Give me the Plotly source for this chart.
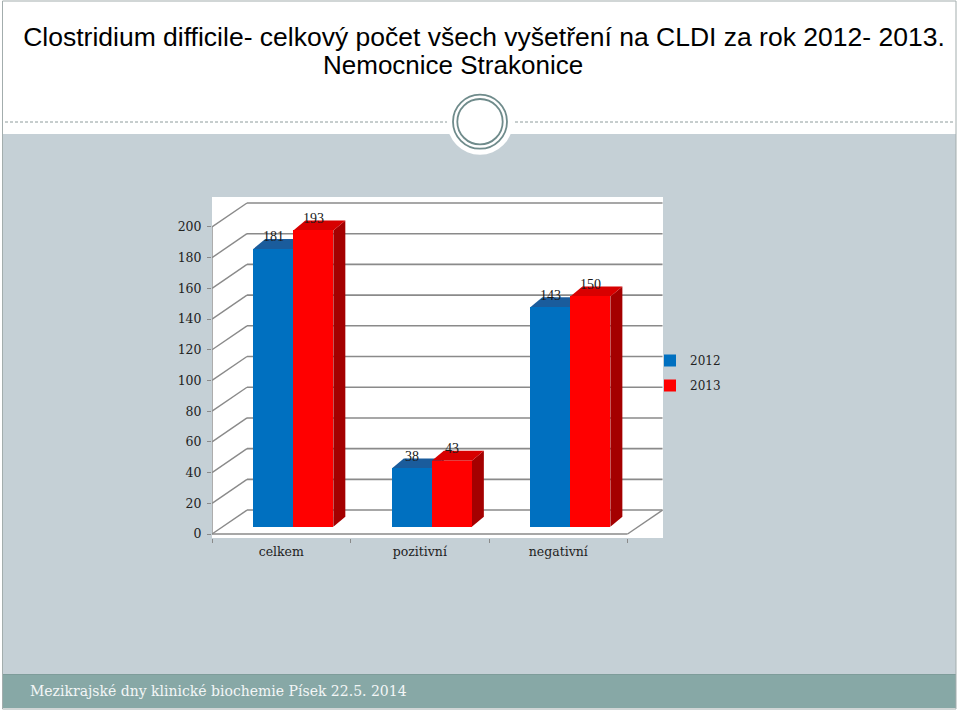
import plotly.graph_objects as go

# ---------------- data ----------------
categories = ["celkem", "pozitivní", "negativní"]
series_names = ["2012", "2013"]
values_2012 = [181, 38, 143]
values_2013 = [193, 43, 150]
y_ticks = [0, 20, 40, 60, 80, 100, 120, 140, 160, 180, 200]

title_line1 = "Clostridium difficile- celkový počet všech vyšetření na CLDI za rok 2012- 2013."
title_line2 = "Nemocnice Strakonice"
footer_text = "Mezikrajské dny klinické biochemie Písek 22.5. 2014"

# ---------------- style / geometry ----------------
BLUE, RED = "#0070C0", "#FF0000"
BLUE_TOP, BLUE_SIDE = "#1A5C9C", "#0B4F8C"
RED_TOP, RED_SIDE = "#D80000", "#A40000"
GRID = "#8A8A8A"

PL, PR, PT, PB = 212, 663, 197, 538      # plot area in pixels
X_RANGE = [-0.5, 2.756]
Y_RANGE = [-2.6, 219.5]
WALL_DX, WALL_DY = 0.2527, 15.6          # perspective depth of the wall
BAR_BASE = 4.7
BAR_SHIFT = 0.087
BAR_W = 0.289
BAR_DX, BAR_DY = 0.0866, 6.5             # bar depth


def px(x):
    return (x - PL) / (PR - PL)


def py(y):
    return (PB - y) / (PB - PT)


shapes = []
# slide background decorations (paper coordinates)
shapes.append(dict(type="rect", xref="paper", yref="paper", layer="below",
                   x0=px(3), x1=px(956), y0=py(674.5), y1=py(134),
                   fillcolor="#C5D0D6", line=dict(width=0)))
shapes.append(dict(type="rect", xref="paper", yref="paper", layer="below",
                   x0=px(3), x1=px(956), y0=py(708), y1=py(674.5),
                   fillcolor="#87A8A6", line=dict(width=0)))
shapes.append(dict(type="line", xref="paper", yref="paper", layer="below",
                   x0=px(3), x1=px(956), y0=py(674.5), y1=py(674.5),
                   line=dict(color="#7E9C9A", width=1)))
shapes.append(dict(type="rect", xref="paper", yref="paper", layer="below",
                   x0=px(2.5), x1=px(956), y0=py(709), y1=py(1),
                   line=dict(color="#A3ADAD", width=1)))
shapes.append(dict(type="line", xref="paper", yref="paper", layer="below",
                   x0=px(5), x1=px(955), y0=py(122), y1=py(122),
                   line=dict(color="#8E9C9C", width=1, dash="3px,2px")))
shapes.append(dict(type="circle", xref="paper", yref="paper", layer="below",
                   x0=px(480 - 33), x1=px(480 + 33), y0=py(121.7 + 33), y1=py(121.7 - 33),
                   fillcolor="white", line=dict(width=0)))
for r in (27, 22.7):
    shapes.append(dict(type="circle", xref="paper", yref="paper", layer="below",
                       x0=px(480 - r), x1=px(480 + r), y0=py(121.7 + r), y1=py(121.7 - r),
                       line=dict(color="#6F8B8B", width=1.8)))
# white chart area
shapes.append(dict(type="rect", xref="paper", yref="paper", layer="below",
                   x0=0, x1=1, y0=0, y1=1, fillcolor="white", line=dict(width=0)))

# 3-D walls (data coordinates)
x_left, x_right = -0.5, len(categories) - 0.5
for v in y_ticks:
    shapes.append(dict(type="line", xref="x", yref="y", layer="below",
                       x0=x_left + WALL_DX, x1=x_right + WALL_DX, y0=v + WALL_DY, y1=v + WALL_DY,
                       line=dict(color=GRID, width=1.6)))
    shapes.append(dict(type="line", xref="x", yref="y", layer="below",
                       x0=x_left, x1=x_left + WALL_DX, y0=v, y1=v + WALL_DY,
                       line=dict(color=GRID, width=1.4)))
shapes.append(dict(type="line", xref="x", yref="y", layer="below",
                   x0=x_left, x1=x_right, y0=0, y1=0, line=dict(color=GRID, width=1.6)))
shapes.append(dict(type="line", xref="x", yref="y", layer="below",
                   x0=x_right, x1=x_right + WALL_DX, y0=0, y1=WALL_DY, line=dict(color=GRID, width=1.4)))
shapes.append(dict(type="line", xref="x", yref="y", layer="below",
                   x0=x_left, x1=x_left, y0=0, y1=y_ticks[-1], line=dict(color=GRID, width=1.4)))

# bar positions
offsets = [-BAR_W / 2, BAR_W / 2]
all_values = [values_2012, values_2013]
front_colors = [BLUE, RED]
top_colors = [BLUE_TOP, RED_TOP]
side_colors = [BLUE_SIDE, RED_SIDE]

annotations = []
fig = go.Figure()
for s, (name, vals) in enumerate(zip(series_names, all_values)):
    xs = [i + BAR_SHIFT + offsets[s] for i in range(len(categories))]
    fig.add_trace(go.Bar(x=xs, y=vals, base=BAR_BASE, width=BAR_W, name=name, legendgroup=name,
                         marker=dict(color=front_colors[s], line=dict(width=0)),
                         hoverinfo="skip"))

for i in range(len(categories)):
    for s, vals in enumerate(all_values):
        c = i + BAR_SHIFT + offsets[s]
        x0, x1 = c - BAR_W / 2, c + BAR_W / 2
        top = BAR_BASE + vals[i]
        shapes.append(dict(type="path", xref="x", yref="y", layer="below",
                           path=f"M{x1},{BAR_BASE} L{x1},{top} L{x1 + BAR_DX},{top + BAR_DY} "
                                f"L{x1 + BAR_DX},{BAR_BASE + BAR_DY} Z",
                           fillcolor=side_colors[s], line=dict(width=0)))
        shapes.append(dict(type="path", xref="x", yref="y", layer="below",
                           path=f"M{x0},{top} L{x1},{top} L{x1 + BAR_DX},{top + BAR_DY} "
                                f"L{x0 + BAR_DX},{top + BAR_DY} Z",
                           fillcolor=top_colors[s], line=dict(width=0)))
        annotations.append(dict(x=c, y=top, xref="x", yref="y", text=str(vals[i]),
                                showarrow=False, yshift=12,
                                font=dict(family="Liberation Serif", size=14, color="#1a1a1a")))

annotations.append(dict(xref="paper", yref="paper", x=px(453), y=py(65), text=title_line2,
                        showarrow=False, xanchor="center", yanchor="middle",
                        font=dict(family="Liberation Sans", size=26, color="black")))
annotations.append(dict(xref="paper", yref="paper", x=px(28), y=py(691), text=footer_text,
                        showarrow=False, xanchor="left", yanchor="middle",
                        font=dict(family="DejaVu Serif", size=14, color="#F3F6F6")))

fig.update_layout(
    width=960, height=712,
    margin=dict(l=PL, r=960 - PR, t=PT, b=712 - PB, pad=0),
    paper_bgcolor="white", plot_bgcolor="rgba(0,0,0,0)",
    barmode="overlay", bargap=0,
    title=dict(text=title_line1, x=484 / 960, xanchor="center", y=1 - 37 / 712, yanchor="middle",
               xref="container", yref="container",
               font=dict(family="Liberation Sans", size=26.5, color="black")),
    xaxis=dict(range=X_RANGE, tickmode="array", tickvals=list(range(len(categories))),
               ticktext=categories, ticks="", showgrid=False, zeroline=False, showline=False,
               ticklabelstandoff=4,
               tickfont=dict(family="DejaVu Serif", size=12.5, color="#222222"),
               minor=dict(tick0=-0.5, dtick=1, ticks="outside", ticklen=4, tickcolor=GRID,
                          tickwidth=1.2, showgrid=False)),
    yaxis=dict(range=Y_RANGE, tickmode="array", tickvals=y_ticks, ticks="outside", ticklen=4,
               tickcolor=GRID, tickwidth=1.2, showgrid=False, zeroline=False, showline=False,
               ticklabelstandoff=3,
               tickfont=dict(family="DejaVu Serif", size=12.5, color="#222222")),
    legend=dict(x=px(650), xanchor="left", y=py(346), yanchor="top",
                traceorder="grouped", tracegroupgap=6,
                bgcolor="rgba(0,0,0,0)", font=dict(family="DejaVu Serif", size=12, color="#222222"),
                itemwidth=30),
    shapes=shapes,
    annotations=annotations,
)

fig.write_html("out.html", config={"displayModeBar": False},
               post_script="document.body.style.margin='0';document.body.style.overflow='hidden';")
